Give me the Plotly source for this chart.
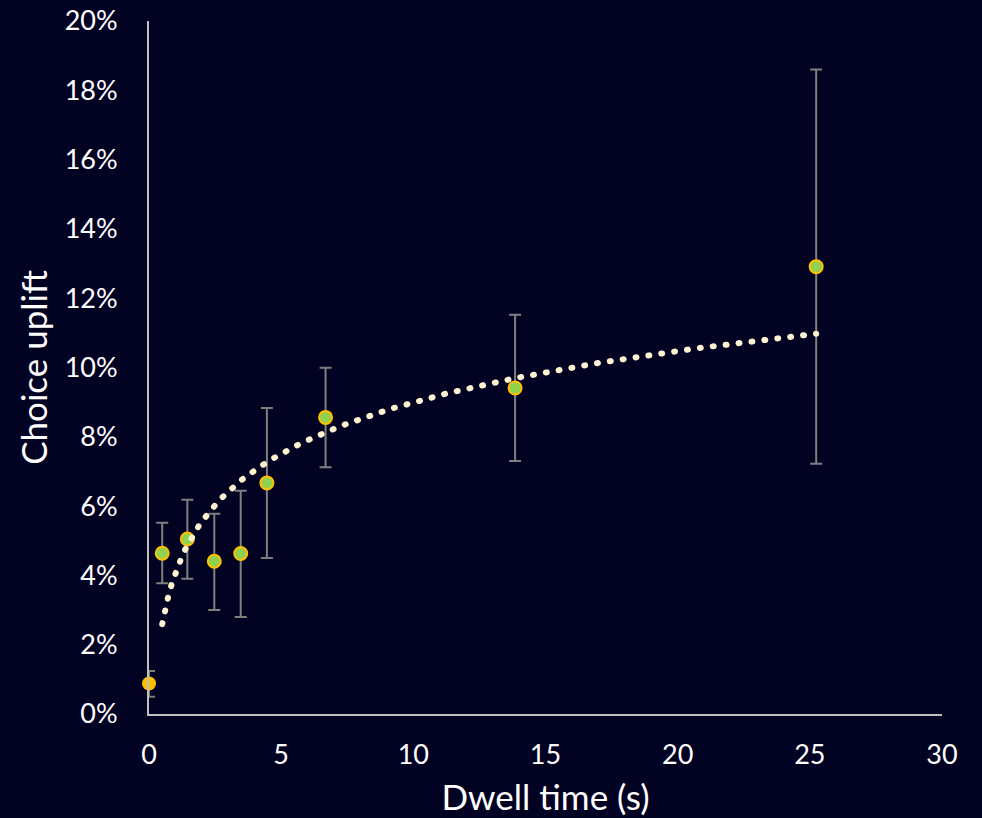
import numpy as np
import plotly.graph_objects as go

# Baseline point (dwell time 0)
base_x = [0.0]
base_y = [0.0088]
base_err_plus = [0.0036]
base_err_minus = [0.0038]

# Dwell-time bins
dwell_x = [0.5, 1.45, 2.47, 3.47, 4.46, 6.68, 13.85, 25.24]
uplift_y = [0.0464, 0.0505, 0.0441, 0.0463, 0.0667, 0.0856, 0.0941, 0.1291]
err_top = [0.0552, 0.0618, 0.0578, 0.0644, 0.0883, 0.0999, 0.1152, 0.1860]
err_bottom = [0.0377, 0.0390, 0.0300, 0.0280, 0.0450, 0.0712, 0.0730, 0.0722]

x_ticks = [0, 5, 10, 15, 20, 25, 30]
y_ticks = [0, 0.02, 0.04, 0.06, 0.08, 0.10, 0.12, 0.14, 0.16, 0.18, 0.20]

err_plus = [t - v for t, v in zip(err_top, uplift_y)]
err_minus = [v - b for v, b in zip(uplift_y, err_bottom)]

# Logarithmic trendline (least squares fit on the bins)
b, a = np.polyfit(np.log(dwell_x), uplift_y, 1)
tx = np.linspace(min(dwell_x), max(dwell_x), 200)
ty = a + b * np.log(tx)

BG = "#020223"
FONT = "Lato, 'Open Sans', sans-serif"

fig = go.Figure()
fig.add_trace(go.Scatter(
    x=dwell_x, y=uplift_y, mode="markers",
    marker=dict(size=13, color="#92D050", line=dict(color="#FFC000", width=2)),
    error_y=dict(type="data", array=err_plus, arrayminus=err_minus,
                 color="#7F7F7F", thickness=2, width=6),
    showlegend=False))
fig.add_trace(go.Scatter(
    x=base_x, y=base_y, mode="markers",
    marker=dict(size=14, color="#FFC000", line=dict(color="#FFC000", width=0)),
    error_y=dict(type="data", array=base_err_plus, arrayminus=base_err_minus,
                 color="#7F7F7F", thickness=2, width=6),
    cliponaxis=False, showlegend=False))
fig.add_trace(go.Scatter(
    x=tx, y=ty, mode="lines",
    line=dict(color="#FFF3D2", width=6, dash="1px,12px"),
    hoverinfo="skip", showlegend=False))

fig.update_layout(
    width=982, height=818,
    paper_bgcolor=BG, plot_bgcolor=BG,
    margin=dict(l=149, r=40, t=21, b=104),
    font=dict(family=FONT, color="white", size=27),
    xaxis=dict(range=[0, 30], tickvals=x_ticks, showgrid=False, zeroline=False,
               showline=True, linecolor="#BFBFBF", linewidth=2, ticks="",
               ticklabelstandoff=16, automargin=False,
               title=dict(text="Dwell time (s)", font=dict(size=35), standoff=16)),
    yaxis=dict(range=[0, 0.20], tickvals=y_ticks, tickformat=".0%", showgrid=False,
               zeroline=False, showline=True, linecolor="#BFBFBF", linewidth=2,
               ticks="", ticklabelstandoff=24, automargin=False,
               title=dict(text="Choice uplift", font=dict(size=35), standoff=6)),
)

post = """
document.body.style.margin='0';
document.body.style.overflow='hidden';
document.querySelectorAll('.scatterlayer .js-line').forEach(function(p){
  p.style.strokeLinecap='round';
});
"""
fig.write_html("out.html", post_script=post, config={"displayModeBar": False})
